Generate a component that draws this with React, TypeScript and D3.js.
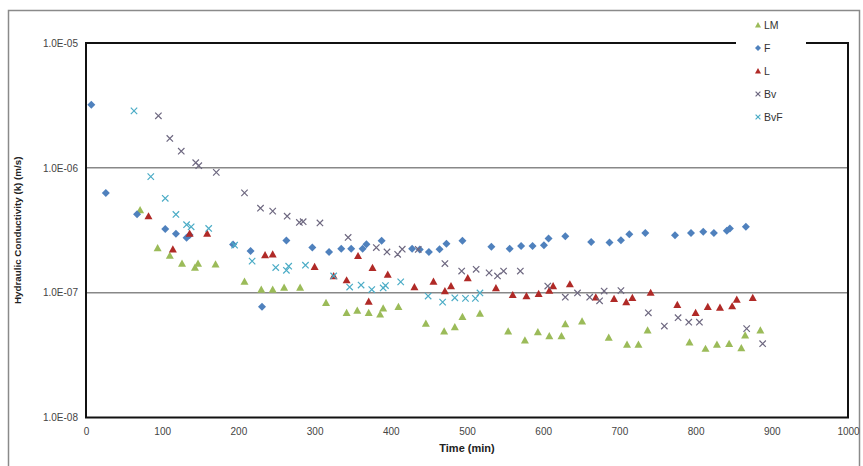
import React, { useEffect, useRef } from 'react';
import * as d3 from 'd3';

type Pt = [number, number];

// Time (min), k (m/s)
const lmData: Pt[] = [
  [71, 4.6e-7], [94, 2.28e-7], [110, 1.98e-7], [126, 1.71e-7], [143, 1.59e-7], [147, 1.71e-7],
  [170, 1.69e-7], [208, 1.23e-7], [230, 1.06e-7], [245, 1.06e-7], [260, 1.1e-7], [281, 1.1e-7],
  [315, 8.3e-8], [342, 6.9e-8], [356, 7.2e-8], [371, 6.9e-8], [386, 6.7e-8], [390, 7.5e-8],
  [410, 7.7e-8], [446, 5.65e-8], [470, 4.9e-8], [484, 5.3e-8], [494, 6.4e-8], [517, 6.8e-8],
  [554, 4.9e-8], [576, 4.15e-8], [593, 4.84e-8], [608, 4.5e-8], [624, 4.5e-8], [629, 5.6e-8],
  [651, 5.9e-8], [686, 4.37e-8], [710, 3.84e-8], [725, 3.84e-8], [737, 5.0e-8], [792, 4.0e-8],
  [813, 3.56e-8], [828, 3.84e-8], [844, 3.9e-8], [860, 3.6e-8], [865, 4.55e-8], [885, 5.0e-8],
];

const fData: Pt[] = [
  [7, 3.2e-6], [26, 6.3e-7], [67, 4.25e-7], [104, 3.24e-7], [118, 2.96e-7], [132, 2.75e-7],
  [136, 2.9e-7], [193, 2.43e-7], [216, 2.16e-7], [231, 7.7e-8], [263, 2.62e-7], [297, 2.3e-7],
  [319, 2.12e-7], [335, 2.25e-7], [348, 2.25e-7], [363, 2.25e-7], [368, 2.44e-7], [388, 2.6e-7],
  [428, 2.25e-7], [438, 2.22e-7], [450, 2.12e-7], [464, 2.23e-7], [473, 2.47e-7], [494, 2.6e-7],
  [532, 2.33e-7], [556, 2.25e-7], [571, 2.37e-7], [586, 2.37e-7], [601, 2.4e-7], [607, 2.72e-7],
  [629, 2.83e-7], [663, 2.55e-7], [687, 2.52e-7], [702, 2.63e-7], [713, 2.94e-7], [734, 3.0e-7],
  [773, 2.88e-7], [794, 3.0e-7], [810, 3.07e-7], [824, 3.0e-7], [841, 3.13e-7], [845, 3.27e-7],
  [866, 3.37e-7],
];

const lData: Pt[] = [
  [82, 4.1e-7], [114, 2.23e-7], [136, 2.98e-7], [159, 2.98e-7], [235, 2.0e-7], [245, 2.03e-7],
  [300, 1.61e-7], [325, 1.36e-7], [342, 1.26e-7], [357, 1.97e-7], [371, 8.5e-8], [376, 1.58e-7],
  [396, 1.4e-7], [431, 1.11e-7], [456, 1.23e-7], [471, 1.03e-7], [479, 1.13e-7], [501, 1.31e-7],
  [538, 1.09e-7], [560, 9.6e-8], [578, 9.4e-8], [594, 9.8e-8], [608, 1.04e-7], [613, 1.13e-7],
  [635, 1.17e-7], [669, 9.2e-8], [693, 8.95e-8], [709, 8.4e-8], [717, 9.1e-8], [741, 1.0e-7],
  [776, 8.0e-8], [800, 6.9e-8], [816, 7.7e-8], [832, 7.6e-8], [848, 7.8e-8], [854, 8.8e-8],
  [875, 9.1e-8],
];

const bvData: Pt[] = [
  [95, 2.61e-6], [110, 1.72e-6], [125, 1.36e-6], [144, 1.1e-6], [148, 1.04e-6], [171, 9.2e-7],
  [208, 6.3e-7], [229, 4.75e-7], [245, 4.5e-7], [264, 4.1e-7], [280, 3.65e-7], [285, 3.7e-7],
  [307, 3.62e-7], [344, 2.77e-7], [381, 2.3e-7], [395, 2.12e-7], [409, 2.03e-7], [415, 2.23e-7],
  [436, 2.22e-7], [471, 1.71e-7], [493, 1.49e-7], [512, 1.54e-7], [529, 1.44e-7], [540, 1.36e-7],
  [548, 1.49e-7], [570, 1.49e-7], [606, 1.13e-7], [629, 9.2e-8], [645, 9.95e-8], [661, 9.2e-8],
  [674, 8.6e-8], [680, 1.03e-7], [702, 1.04e-7], [738, 6.9e-8], [759, 5.4e-8], [777, 6.3e-8],
  [791, 5.8e-8], [805, 5.8e-8], [867, 5.15e-8], [888, 3.9e-8],
];

const bvfData: Pt[] = [
  [63, 2.86e-6], [85, 8.5e-7], [104, 5.7e-7], [118, 4.23e-7], [132, 3.5e-7], [138, 3.37e-7],
  [161, 3.27e-7], [195, 2.4e-7], [218, 1.79e-7], [249, 1.59e-7], [263, 1.51e-7], [266, 1.63e-7],
  [288, 1.66e-7], [325, 1.36e-7], [346, 1.11e-7], [361, 1.15e-7], [375, 1.06e-7], [390, 1.09e-7],
  [393, 1.14e-7], [413, 1.22e-7], [449, 9.4e-8], [468, 8.4e-8], [484, 9.1e-8], [498, 9.0e-8],
  [511, 9.0e-8], [517, 9.95e-8],
];

const xTicks = [0, 100, 200, 300, 400, 500, 600, 700, 800, 900, 1000];
const yTicks = [1e-8, 1e-7, 1e-6, 1e-5];

const series = [
  { name: 'LM', data: lmData, shape: 'tri', color: '#9bbb59' },
  { name: 'F', data: fData, shape: 'diamond', color: '#4f81bd' },
  { name: 'L', data: lData, shape: 'tri', color: '#b02a27' },
  { name: 'Bv', data: bvData, shape: 'x', color: '#6e6880' },
  { name: 'BvF', data: bvfData, shape: 'x', color: '#4bacc6' },
];

const FONT = 'Liberation Sans, Arial, sans-serif';

const App: React.FC = () => {
  const svgRef = useRef<SVGSVGElement | null>(null);

  useEffect(() => {
    if (!svgRef.current) return;
    const width = 863;
    const height = 466;
    const margin = { top: 43, right: 15, bottom: 48, left: 86 };

    const svg = d3.select(svgRef.current);
    svg.selectAll('*').remove();

    const x = d3.scaleLinear().domain([0, 1000]).range([margin.left, width - margin.right]);
    const y = d3.scaleLog().domain([1e-8, 1e-5]).range([height - margin.bottom - 0.5, margin.top]);

    // outer chart frame
    svg.append('rect')
      .attr('x', 8.5).attr('y', 10.5)
      .attr('width', width - 12).attr('height', height)
      .attr('fill', 'white').attr('stroke', '#8a8a8a').attr('stroke-width', 1.5);

    // grid lines
    svg.append('g')
      .selectAll('line')
      .data(yTicks.slice(1, 3))
      .enter()
      .append('line')
      .attr('x1', x(0)).attr('x2', x(1000))
      .attr('y1', (d) => y(d)).attr('y2', (d) => y(d))
      .attr('stroke', '#888').attr('stroke-width', 1.5);

    // plot frame
    svg.append('rect')
      .attr('x', x(0)).attr('y', y(1e-5))
      .attr('width', x(1000) - x(0)).attr('height', y(1e-8) - y(1e-5))
      .attr('fill', 'none').attr('stroke', '#111').attr('stroke-width', 2);

    // axes
    const fmt = (d: number) => `1.0E-${String(Math.round(-Math.log10(d))).padStart(2, '0')}`;
    const yAxis = svg.append('g')
      .attr('transform', `translate(${x(0)},0)`)
      .call(d3.axisLeft(y).tickValues(yTicks).tickSize(0).tickPadding(8).tickFormat((d) => fmt(d as number)));
    yAxis.select('.domain').remove();
    yAxis.selectAll('text')
      .attr('fill', '#444').attr('font-size', '10px').attr('font-family', FONT);

    const xAxis = svg.append('g')
      .attr('transform', `translate(0,${y(1e-8)})`)
      .call(d3.axisBottom(x).tickValues(xTicks).tickSize(0).tickPadding(10).tickFormat(d3.format('d')));
    xAxis.select('.domain').remove();
    xAxis.selectAll('text')
      .attr('fill', '#444').attr('font-size', '10px').attr('font-family', FONT);

    // axis titles
    svg.append('text')
      .attr('x', (x(0) + x(1000)) / 2).attr('y', 452)
      .attr('text-anchor', 'middle').attr('font-size', '11px').attr('font-weight', 'bold')
      .attr('font-family', FONT).attr('fill', '#222')
      .text('Time (min)');

    svg.append('text')
      .attr('transform', `translate(21,${(y(1e-5) + y(1e-8)) / 2}) rotate(-90)`)
      .attr('text-anchor', 'middle').attr('font-size', '9.8px').attr('font-weight', 'bold')
      .attr('font-family', FONT).attr('fill', '#222')
      .text('Hydraulic Conductivity (k) (m/s)');

    const drawMarker = (g: d3.Selection<SVGGElement, unknown, null, undefined>, shape: string, color: string, cx: number, cy: number, s: number) => {
      if (shape === 'diamond') {
        g.append('path')
          .attr('d', `M${cx},${cy - s}L${cx + s},${cy}L${cx},${cy + s}L${cx - s},${cy}Z`)
          .attr('fill', color);
      } else if (shape === 'tri') {
        g.append('path')
          .attr('d', `M${cx},${cy - s}L${cx + s},${cy + s * 0.8}L${cx - s},${cy + s * 0.8}Z`)
          .attr('fill', color);
      } else {
        const r = s * 0.8;
        g.append('path')
          .attr('d', `M${cx - r},${cy - r}L${cx + r},${cy + r}M${cx - r},${cy + r}L${cx + r},${cy - r}`)
          .attr('stroke', color).attr('stroke-width', 1.2).attr('fill', 'none');
      }
    };

    // data points
    series.forEach((s) => {
      const g = svg.append('g');
      s.data.forEach(([t, k]) => drawMarker(g, s.shape, s.color, x(t), y(k), 4));
    });

    // legend
    const legend = svg.append('g');
    legend.append('rect')
      .attr('x', 736).attr('y', 14).attr('width', 70).attr('height', 112).attr('fill', 'white');
    series.forEach((s, i) => {
      const ly = 25 + i * 23;
      const lg = legend.append('g');
      drawMarker(lg, s.shape, s.color, 758, ly, 3);
      lg.append('text')
        .attr('x', 764).attr('y', ly + 4)
        .attr('font-size', '10.5px').attr('fill', '#333')
        .attr('font-family', FONT)
        .text(s.name);
    });
  }, []);

  return (
    <div style={{ position: 'absolute', top: 0, left: 0 }}>
      <svg ref={svgRef} width={863} height={466} style={{ display: 'block' }} />
    </div>
  );
};

export default App;
